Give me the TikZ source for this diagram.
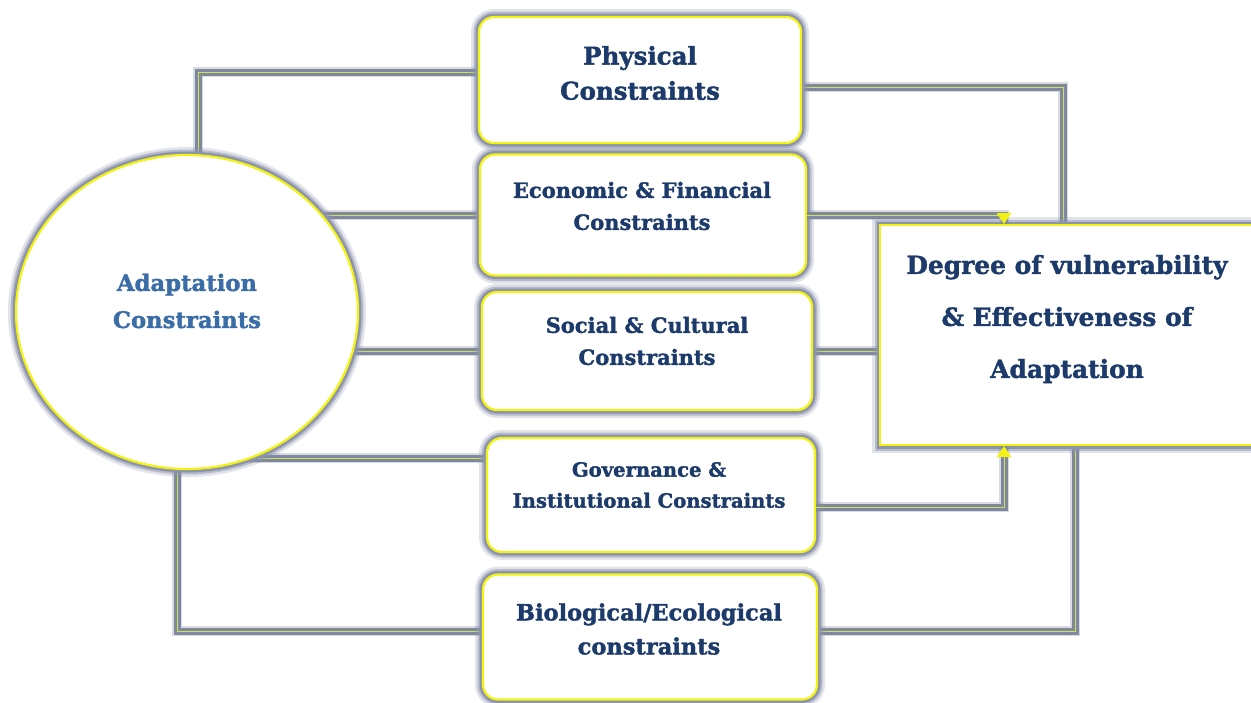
\documentclass[tikz,border=0pt]{standalone}
\usepackage{fontspec}
\setmainfont{DejaVu Serif}[BoldFeatures={FakeBold=1.6}]
\usepackage{tikz}
\usetikzlibrary{arrows.meta, backgrounds, shapes.geometric}
\definecolor{glowgray}{RGB}{140,147,172}
\definecolor{linegray}{RGB}{128,136,160}
\definecolor{linecore}{RGB}{205,226,86}
\definecolor{rim}{RGB}{242,242,20}
\definecolor{navy}{RGB}{28,58,106}
\definecolor{midblue}{RGB}{58,108,168}
\tikzstyle{basefont}=[font=\bfseries, text=navy, align=center]
\tikzstyle{rimbox}=[draw=rim, fill=white, line width=2.2pt,
	preaction={draw=glowgray, line width=16pt, opacity=0.25},
	preaction={draw=glowgray, line width=11pt, opacity=0.5},
	preaction={draw=glowgray, line width=7pt}]
\tikzstyle{cbox}=[rimbox, rounded corners=15pt]
\tikzstyle{link}=[draw=linecore, line width=0.6pt,
	preaction={draw=linegray, line width=10pt, opacity=0.3, -},
	preaction={draw=linegray, line width=7pt, -}]
\tikzstyle{arrow}=[link, -{Triangle[length=11pt, width=15pt, fill=rim, color=rim]}]
\newcommand*{\fsz}[2]{\fontsize{#1}{#2}\selectfont}

\begin{document}
\begin{tikzpicture}[x=1pt, y=-1pt]
	\useasboundingbox (0,0) rectangle (1251,702);

	% Shapes
	\node[rimbox, ellipse, minimum width=342pt, minimum height=314pt] (circ) at (187,312) {};
	\node[cbox, minimum width=322pt, minimum height=126pt] (phys) at (640,80) {};
	\node[cbox, minimum width=326pt, minimum height=121pt] (econ) at (643,215) {};
	\node[cbox, minimum width=330pt, minimum height=118pt] (soc) at (647,351) {};
	\node[cbox, minimum width=328pt, minimum height=114pt] (gov) at (651,495) {};
	\node[cbox, minimum width=334pt, minimum height=125pt] (bio) at (650,637) {};
	\node[rimbox, minimum width=372pt, minimum height=220pt] (out) at (1066,335) {};

	% Texts
	\node[basefont, text=midblue, font=\bfseries\fsz{22.7}{37}] (circ-text) at (187,301) {Adaptation\\Constraints};
	\node[basefont, font=\bfseries\fsz{24.5}{35}] (phys-text) at (640,73) {Physical\\Constraints};
	\node[basefont, font=\bfseries\fsz{21}{32}] (econ-text) at (642,206) {Economic \& Financial\\Constraints};
	\node[basefont, font=\bfseries\fsz{21}{32}] (soc-text) at (647,341) {Social \& Cultural\\Constraints};
	\node[basefont, font=\bfseries\fsz{19.6}{31}] (gov-text) at (649,485) {Governance \&\\Institutional Constraints};
	\node[basefont, font=\bfseries\fsz{22.5}{34}] (bio-text) at (649,629) {Biological/Ecological\\constraints};
	\node[basefont, font=\bfseries\fsz{24.9}{52}] (out-text) at (1067,319) {Degree of vulnerability\\\& Effectiveness of\\Adaptation};

	% Links behind the shapes
	\begin{scope}[on background layer]
		\draw[link] ([xshift=11pt]circ.center) |- ([yshift=8pt]phys.west);
		\draw[link] ([yshift=-7pt]phys.east) -| ([xshift=-3pt]out.north);
		\draw[link] (circ.center |- econ.west) -- (econ.west);
		\draw[link] (circ.center |- soc.west) -- (soc.west);
		\draw[link] (soc.east) -- (soc.east -| out.west);
		\coordinate (gov-in) at ([yshift=37pt]gov.west);
		\draw[link] (circ.center |- gov-in) -- (gov-in);
		\draw[link] ([xshift=-10pt]circ.center) |- ([yshift=6pt]bio.west);
		\draw[link] ([yshift=6pt]bio.east) -| ([xshift=9pt]out.south);
	\end{scope}

	% Arrows into the outcome box
	\draw[arrow] (econ.east) -| ([xshift=-62pt]out.north);
	\draw[arrow] ([yshift=-12pt]gov.east) -| ([xshift=-62pt]out.south);
\end{tikzpicture}
\end{document}
